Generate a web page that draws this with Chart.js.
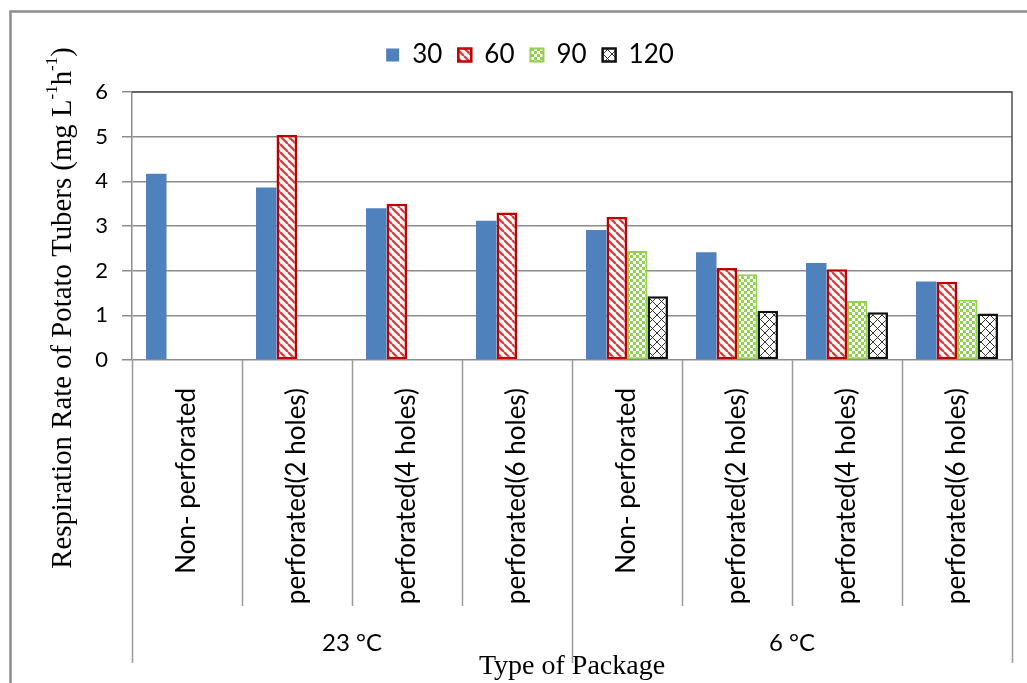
<!DOCTYPE html>
<html lang="en">
<head>
<meta charset="UTF-8">
<title>Respiration rate of potato tubers</title>
<style>
  html, body { margin: 0; padding: 0; background: #fff; }
  #wrap { width: 1027px; height: 683px; position: relative; }
</style>
</head>
<body>
<div id="wrap"><canvas id="chart" width="1027" height="683"></canvas></div>
<script src="https://cdn.jsdelivr.net/npm/chart.js"></script>
<script>
// data
const packages = ["Non- perforated", "perforated(2 holes)", "perforated(4 holes)", "perforated(6 holes)",
                  "Non- perforated", "perforated(2 holes)", "perforated(4 holes)", "perforated(6 holes)"]
const temps = ["23 °C", "6 °C"]
const perTemp = 4
const yTicks = [0, 1, 2, 3, 4, 5, 6]
const seriesNames = ["30", "60", "90", "120"]
const days30  = [4.17, 3.86, 3.40, 3.12, 2.91, 2.41, 2.17, 1.76]
const days60  = [null, 5.04, 3.50, 3.30, 3.20, 2.06, 2.03, 1.75]
const days90  = [null, null, null, null, 2.44, 1.92, 1.32, 1.35]
const days120 = [null, null, null, null, 1.43, 1.10, 1.07, 1.04]

const sans = "Lato, 'Noto Sans', sans-serif"
const serif = "'Liberation Serif', 'DejaVu Serif', serif"

function makePattern(kind) {
    const c = document.createElement('canvas')
    const g = c.getContext('2d')
    if (kind === 'stripe') {
        c.width = 8; c.height = 8
        g.fillStyle = '#fff'; g.fillRect(0, 0, 8, 8)
        g.strokeStyle = '#d04545'; g.lineWidth = 2.4
        for (const o of [-8, 0, 8]) {
            g.beginPath(); g.moveTo(o, 0); g.lineTo(o + 8, 8); g.stroke()
        }
    } else if (kind === 'check') {
        c.width = 6; c.height = 6
        g.fillStyle = '#92d050'; g.fillRect(0, 0, 6, 6)
        g.fillStyle = '#fff'
        g.fillRect(0, 0, 3, 3); g.fillRect(3, 3, 3, 3)
    } else {
        c.width = 9; c.height = 9
        g.fillStyle = '#fff'; g.fillRect(0, 0, 9, 9)
        g.strokeStyle = '#333'; g.lineWidth = 1
        for (const o of [-9, 0, 9]) {
            g.beginPath(); g.moveTo(o, 0); g.lineTo(o + 9, 9); g.stroke()
            g.beginPath(); g.moveTo(o, 9); g.lineTo(o + 9, 0); g.stroke()
        }
    }
    return g.createPattern(c, 'repeat')
}

// separators, group labels, y title with superscripts, frames
const excelBits = {
    id: 'excelBits',
    afterDraw(chart) {
        const ctx = chart.ctx
        const x = chart.scales.x
        const a = chart.chartArea
        ctx.save()

        // outer chart frame
        ctx.strokeStyle = '#8c8c8c'
        ctx.lineWidth = 2.5
        ctx.strokeRect(10.5, 11.5, 1200, 1200)

        // category separators below the axis
        const bounds = []
        for (let i = 0; i <= packages.length; i++) {
            if (i === 0) bounds.push(x.left)
            else if (i === packages.length) bounds.push(x.right)
            else bounds.push((x.getPixelForValue(i - 1) + x.getPixelForValue(i)) / 2)
        }
        ctx.strokeStyle = '#9a9a9a'
        ctx.lineWidth = 1.5
        bounds.forEach((bx, i) => {
            const end = i % perTemp === 0 ? a.bottom + 303 : a.bottom + 246
            ctx.beginPath()
            ctx.moveTo(Math.round(bx) + 0.5, a.bottom)
            ctx.lineTo(Math.round(bx) + 0.5, end)
            ctx.stroke()
        })

        // temperature labels
        ctx.fillStyle = '#000'
        ctx.font = '24px ' + sans
        ctx.textAlign = 'center'
        ctx.textBaseline = 'middle'
        temps.forEach((t, k) => {
            const cx = (bounds[k * perTemp] + bounds[(k + 1) * perTemp]) / 2
            ctx.fillText(t, cx, a.bottom + 283)
        })

        // plot border top + right
        ctx.strokeStyle = '#505050'
        ctx.lineWidth = 1.5
        ctx.beginPath()
        ctx.moveTo(a.left, a.top)
        ctx.lineTo(a.right, a.top)
        ctx.lineTo(a.right, a.bottom)
        ctx.stroke()

        // y axis title
        const parts = [
            ['Respiration Rate of Potato Tubers (mg L', false],
            ['-1', true],
            ['h', false],
            ['-1', true],
            [')', false]
        ]
        const big = '28.8px ' + serif, small = '17px ' + serif
        let total = 0
        parts.forEach(p => { ctx.font = p[1] ? small : big; total += ctx.measureText(p[0]).width })
        ctx.translate(63, 308)
        ctx.rotate(-Math.PI / 2)
        ctx.textAlign = 'left'
        ctx.textBaseline = 'middle'
        let px = -total / 2
        parts.forEach(p => {
            ctx.font = p[1] ? small : big
            ctx.fillText(p[0], px, p[1] ? -10 : 0)
            px += ctx.measureText(p[0]).width
        })
        ctx.restore()
    }
}

const datasets = [
    { label: seriesNames[0], data: days30, backgroundColor: '#4f81bd', borderWidth: 0 },
    { label: seriesNames[1], data: days60, backgroundColor: makePattern('stripe'), borderColor: '#c00000', borderWidth: 2.5 },
    { label: seriesNames[2], data: days90, backgroundColor: makePattern('check'), borderColor: '#92d050', borderWidth: 2 },
    { label: seriesNames[3], data: days120, backgroundColor: makePattern('cross'), borderColor: '#111', borderWidth: 2.5 }
].map(d => Object.assign(d, { barPercentage: 1, categoryPercentage: 0.745, borderSkipped: false }))

new Chart(document.getElementById('chart'), {
    type: 'bar',
    data: { labels: packages, datasets: datasets },
    plugins: [excelBits],
    options: {
        responsive: false,
        animation: false,
        layout: { padding: { top: 26, right: 15, left: 48, bottom: 0 } },
        plugins: {
            legend: {
                position: 'top',
                labels: { boxWidth: 13, boxHeight: 13, padding: 16, color: '#000', font: { family: sans, size: 26 } }
            },
            // empty spacer between legend and plot
            subtitle: { display: true, text: '', weight: 500, font: { size: 10, lineHeight: 1 }, padding: { top: 4, bottom: 0 } },
            tooltip: { enabled: false }
        },
        scales: {
            x: {
                offset: true,
                grid: { display: false },
                border: { display: false },
                ticks: { autoSkip: false, minRotation: 90, maxRotation: 90, padding: 20, color: '#000', font: { family: sans, size: 26 } },
                title: { display: true, text: 'Type of Package', color: '#000', font: { family: serif, size: 28 }, padding: { top: 0, bottom: 0 } },
                afterFit: s => { s.height = 323 }
            },
            y: {
                min: 0,
                max: 6,
                afterBuildTicks: s => { s.ticks = yTicks.map(v => ({ value: v })) },
                grid: { color: '#8c8c8c', lineWidth: 1.5, tickLength: 10 },
                border: { color: '#8c8c8c', width: 1.5 },
                ticks: { padding: 14, color: '#000', font: { family: sans, size: 22 } },
                afterFit: s => { s.width = 84 }
            }
        }
    }
})
</script>
</body>
</html>
